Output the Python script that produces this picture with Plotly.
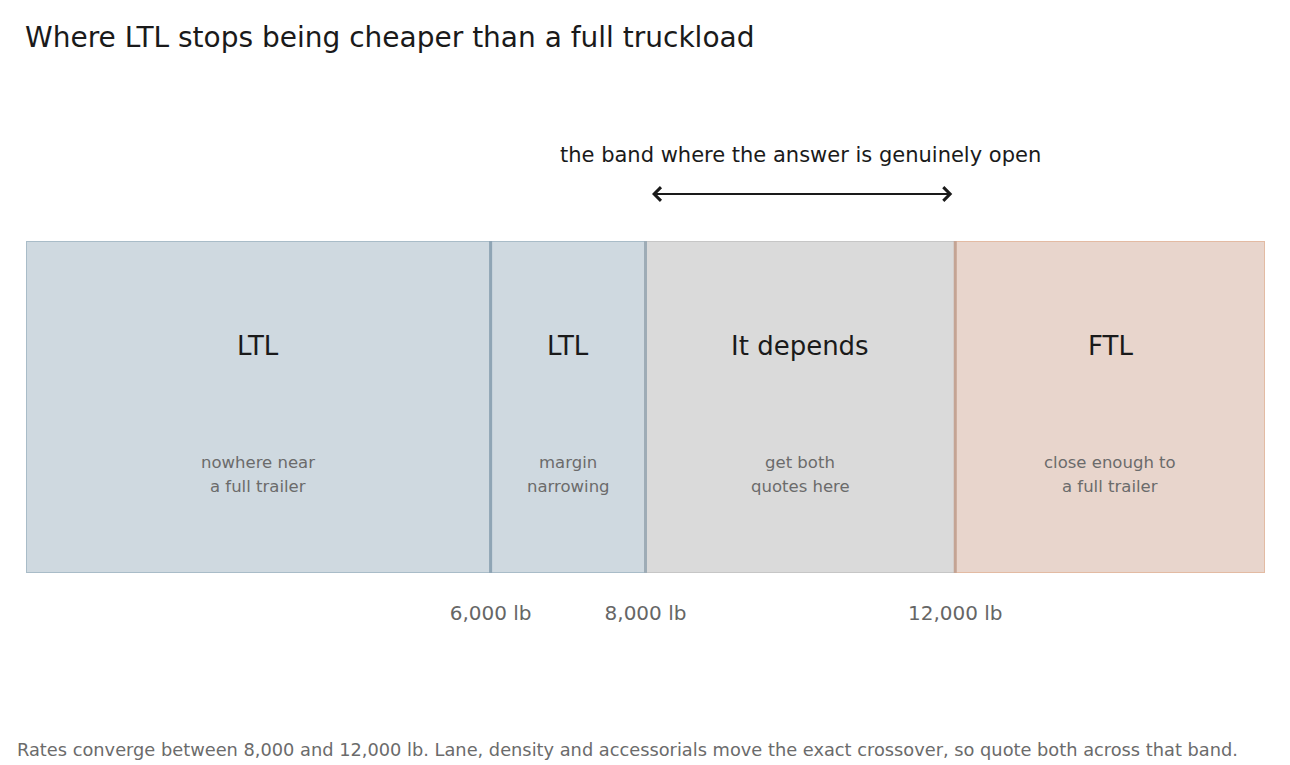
import plotly.graph_objects as go

# weight bands (lb)
band_start = [0, 6000, 8000, 12000]
band_end = [6000, 8000, 12000, 16000]
band_label = ["LTL", "LTL", "It depends", "FTL"]
band_note = [["nowhere near", "a full trailer"], ["margin", "narrowing"],
             ["get both", "quotes here"], ["close enough to", "a full trailer"]]
band_fill = ["#cfd9e0", "#cfd9e0", "#dadada", "#e8d5cc"]
band_edge = ["#a9bcc8", "#a9bcc8", "#c6c6c6", "#e3bba3"]

thresholds = [6000, 8000, 12000]
threshold_text = ["6,000 lb", "8,000 lb", "12,000 lb"]
threshold_colour = ["#8fa5b5", "#9eacb6", "#c4a494"]

open_from = 8000
open_to = 12000

FONT = "DejaVu Sans"
W, H = 1282, 757   # page adds an 8px body margin

fig = go.Figure()

# invisible trace so the axes exist
fig.add_scatter(x=[0, 16000], y=[0, 1], mode="markers",
                marker=dict(opacity=0), hoverinfo="skip", showlegend=False)

for s, e, fc, ec in zip(band_start, band_end, band_fill, band_edge):
    fig.add_shape(type="rect", xref="x", yref="y",
                  x0=s, x1=e, y0=0, y1=1,
                  fillcolor=fc, line=dict(color=ec, width=2), layer="below")

for t, c in zip(thresholds, threshold_colour):
    fig.add_shape(type="line", xref="x", yref="y",
                  x0=t, x1=t, y0=0, y1=1,
                  line=dict(color=c, width=3))

for s, e, lab, note in zip(band_start, band_end, band_label, band_note):
    mid = (s + e) / 2
    fig.add_annotation(x=mid, y=0.684, text=lab, showarrow=False,
                       font=dict(size=26, color="#1a1a1a", family=FONT))
    for k, line in enumerate(note):
        fig.add_annotation(x=mid, y=0.334 - 0.072 * k, text=line, showarrow=False,
                           font=dict(size=16.5, color="#6b6b6b", family=FONT))

# the open band arrow
fig.add_annotation(x=open_to, y=1.1416, xref="x", yref="paper",
                   ax=open_from, ay=0, axref="x", ayref="pixel",
                   text="", showarrow=True, arrowhead=4, startarrowhead=4,
                   arrowside="end+start", arrowwidth=2.2, arrowsize=1.2,
                   startarrowsize=1.2, standoff=3, startstandoff=5,
                   arrowcolor="#1a1a1a")
fig.add_annotation(x=(open_from + open_to) / 2, y=1.259, xref="x", yref="paper",
                   yanchor="middle",
                   text="the band where the answer is genuinely open",
                   showarrow=False,
                   font=dict(size=21, color="#1a1a1a", family=FONT))

fig.add_annotation(x=-0.0089, y=-0.533, xref="paper", yref="paper",
                   xanchor="left", yanchor="middle", showarrow=False,
                   text="Rates converge between 8,000 and 12,000 lb. Lane, density "
                        "and accessorials move the exact crossover, so quote both "
                        "across that band.",
                   font=dict(size=17.8, color="#6b6b6b", family=FONT))

fig.update_layout(
    width=W, height=H,
    margin=dict(l=18, r=25, t=233, b=192),
    plot_bgcolor="#ffffff", paper_bgcolor="#ffffff",
    showlegend=False,
    font=dict(family=FONT),
    title=dict(text="Where LTL stops being cheaper than a full truckload",
               xref="container", yref="container",
               x=17 / W, y=1 - 29 / H, xanchor="left", yanchor="middle",
               font=dict(size=28, color="#1a1a1a", family=FONT)),
)
fig.update_xaxes(range=[0, 16000], tickvals=thresholds, ticktext=threshold_text,
                 showgrid=False, zeroline=False, showline=False, ticks="",
                 tickfont=dict(size=20, color="#666666", family=FONT),
                 ticklabelstandoff=26, fixedrange=True)
fig.update_yaxes(range=[0, 1], visible=False, fixedrange=True)

fig.write_html("out.html")
